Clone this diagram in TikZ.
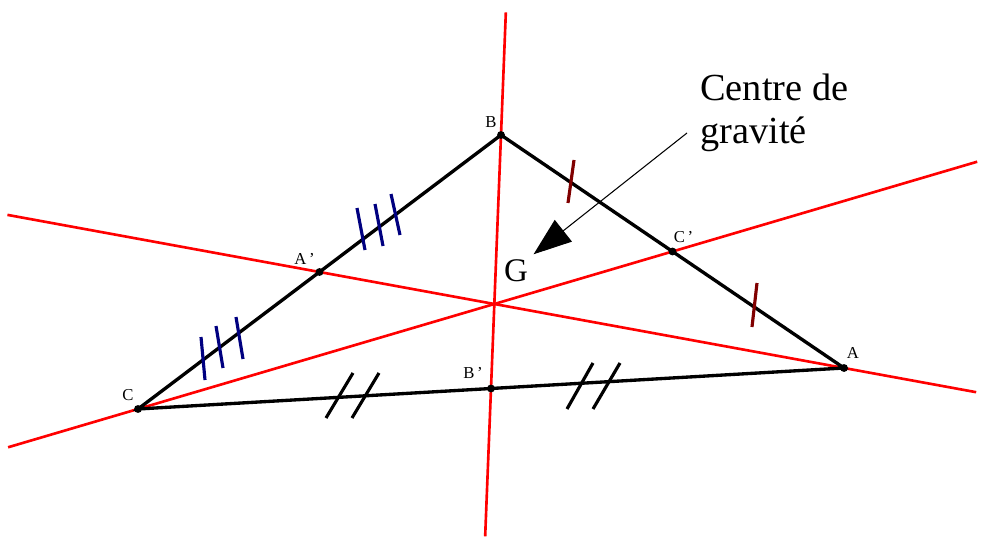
\documentclass[tikz,border=0pt]{standalone}
\usepackage{fontspec}
\setmainfont{Liberation Serif}
\usepackage{xcolor}
\usetikzlibrary{arrows.meta,calc}
\definecolor{tickblue}{RGB}{0,0,128}
\definecolor{tickred}{RGB}{128,0,0}

\begin{document}
\begin{tikzpicture}[
    x=0.02cm, y=-0.02cm,
    side/.style={line width=1.9pt, black, line cap=round},
    median/.style={line width=1.5pt, red},
    bluemark/.style={line width=1.8pt, tickblue},
    redmark/.style={line width=1.8pt, tickred},
    blackmark/.style={line width=1.8pt, black},
    dot/.style={circle, fill=black, inner sep=0pt, minimum size=4.5pt},
    ptlabel/.style={inner sep=0pt, font=\fontsize{9.5}{11}\selectfont},
    pointer/.style={line width=0.6pt, -{Triangle[length=0.76cm, width=0.55cm]}}
]
\useasboundingbox (0,0) rectangle (981,537);

% Vertices and midpoints
\coordinate (A) at (844,368);
\coordinate (B) at (501,135);
\coordinate (C) at (138,409);
\coordinate (Ap) at ($(B)!0.5!(C)$);
\coordinate (Bp) at ($(A)!0.5!(C)$);
\coordinate (Cp) at ($(A)!0.5!(B)$);

% Medians
\draw[median] ($(A)!-0.252!(Ap)$) -- ($(A)!1.595!(Ap)$);
\draw[median] ($(B)!-0.484!(Bp)$) -- ($(B)!1.583!(Bp)$);
\draw[median] ($(C)!-0.243!(Cp)$) -- ($(C)!1.570!(Cp)$);

% Triangle
\draw[side] (A) -- (B) -- (C) -- cycle;

% Equal length marks
\foreach \p/\q in {{(357,208)}/{(365,250)}, {(375,204)}/{(383,246)}, {(391,194)}/{(400,235)},
                   {(201,337)}/{(205,380)}, {(216,326)}/{(223,368)}, {(236,317)}/{(243,359)}}
    \draw[bluemark] \p -- \q;
\foreach \p/\q in {{(574,160)}/{(568,203)}, {(757,283)}/{(752,327)}}
    \draw[redmark] \p -- \q;
\foreach \p/\q in {{(326,418)}/{(353,373)}, {(352,418)}/{(379,373)},
                   {(567,409)}/{(593,363)}, {(593,409)}/{(620,363)}}
    \draw[blackmark] \p -- \q;

% Points
\foreach \n in {A,B,C,Ap,Bp,Cp}
    \node[dot] at (\n) {};

% Point labels
\node[ptlabel] (labB) at ($(B)+(-10,-13)$) {B};
\node[ptlabel] (labAp) at ($(Ap)+(-15,-13)$) {A\,'};
\node[ptlabel] (labCp) at ($(Cp)+(11,-14)$) {C\,'};
\node[ptlabel] (labA) at ($(A)+(9,-15)$) {A};
\node[ptlabel] (labC) at ($(C)+(-10,-14)$) {C};
\node[ptlabel] (labBp) at ($(Bp)+(-18,-16)$) {B\,'};

% Centre of gravity
\node[inner sep=3pt, font=\fontsize{18.8}{22}\selectfont] (G) at (516,271) {G};
\node[inner sep=0pt, anchor=north west, align=left,
      font=\fontsize{21.8}{24.4}\selectfont] (legend) at (700,74) {Centre de\\gravité};
\coordinate (arrowstart) at (687,133);
\draw[pointer] (arrowstart) -- (G.north east);

\end{tikzpicture}
\end{document}
